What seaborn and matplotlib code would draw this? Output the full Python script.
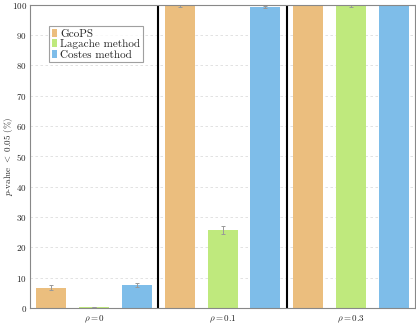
import matplotlib
matplotlib.use("Agg")
import matplotlib.pyplot as plt
import seaborn as sns
import pandas as pd
import numpy as np

groups = [r"$\rho = 0$", r"$\rho = 0.1$", r"$\rho = 0.3$"]
methods = ["GcoPS", "Lagache method", "Costes method"]
gcops = [6.6, 99.5, 100.0]
lagache = [0.1, 25.7, 99.7]
costes = [7.6, 99.3, 100.0]
gcops_err = [0.8, 0.3, 0.05]
lagache_err = [0.0, 1.3, 0.3]
costes_err = [0.7, 0.4, 0.05]
colors = ["#ebbe7e", "#bfe97d", "#7ebde9"]

sns.set_style("white")
plt.rcParams["font.family"] = ["serif"]
plt.rcParams["font.serif"] = ["cmr10", "DejaVu Serif"]
plt.rcParams["mathtext.fontset"] = "cm"
plt.rcParams["axes.formatter.use_mathtext"] = True

df = pd.DataFrame({
    "group": groups * 3,
    "method": [methods[0]] * 3 + [methods[1]] * 3 + [methods[2]] * 3,
    "value": gcops + lagache + costes,
})
errs = gcops_err + lagache_err + costes_err

fig, ax = plt.subplots(figsize=(4.16, 3.24), dpi=100)
fig.subplots_adjust(left=0.072, right=0.998, top=0.985, bottom=0.05)

sns.barplot(data=df, x="group", y="value", hue="method", hue_order=methods,
            order=groups, palette=colors, width=1.0, gap=0.3, errorbar=None,
            ax=ax, saturation=1, edgecolor="none", linewidth=0)

patches = list(ax.patches)[:9]
for p, e in zip(patches, errs):
    cx = p.get_x() + p.get_width() / 2
    ax.errorbar(cx, p.get_height(), yerr=e, fmt="none", ecolor="#999999",
                elinewidth=0.7, capsize=1.5, capthick=0.7)

ax.set_xlim(-0.5, 2.5)
ax.set_ylim(0, 100)
ax.set_yticks(np.arange(0, 101, 10))
ax.set_xlabel("")
ax.set_ylabel(r"$p$-value $<$ 0.05 (%)", fontsize=6.5, va="center")
ax.yaxis.set_label_coords(-0.055, 0.5)
ax.tick_params(axis="both", labelsize=6.5, length=2.5, color="#888888", direction="in", pad=2)
ax.tick_params(axis="x", length=0, pad=4)
ax.yaxis.grid(True, linestyle=(0, (3, 3)), color="#dddddd", linewidth=0.6)
ax.set_axisbelow(True)
for s in ax.spines.values():
    s.set_color("#888888")
    s.set_linewidth(0.8)
for xv in [0.5, 1.5]:
    ax.axvline(xv, color="black", linewidth=1.5)

leg = ax.legend(loc="upper left", bbox_to_anchor=(0.049, 0.93), fontsize=8,
                frameon=True, fancybox=False, edgecolor="#888888",
                handlelength=0.5, handleheight=0.7, handletextpad=0.3,
                borderpad=0.25, labelspacing=0.05, borderaxespad=0)
leg.get_frame().set_linewidth(0.8)

fig.savefig("out.png", dpi=100)
